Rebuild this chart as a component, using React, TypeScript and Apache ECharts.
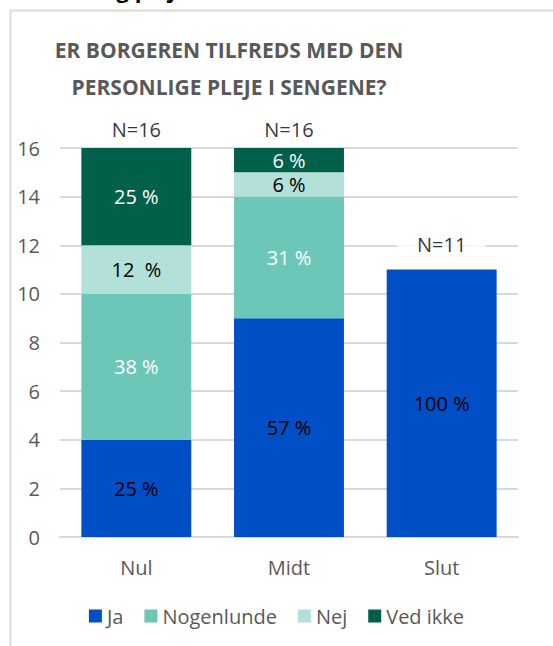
import React, { useEffect, useRef } from "react";
import * as echarts from "echarts";

const categories = ["Nul", "Midt", "Slut"];
const seriesNames = ["Ja", "Nogenlunde", "Nej", "Ved ikke"];
const jaValues = [4, 9, 11];
const nogenlundeValues = [6, 5, 0];
const nejValues = [2, 1, 0];
const vedIkkeValues = [4, 1, 0];
const jaLabels = ["25 %", "57 %", "100 %"];
const nogenlundeLabels = ["38 %", "31 %", ""];
const nejLabels = ["12  %", "6 %", ""];
const vedIkkeLabels = ["25 %", "6 %", ""];
const totals = [16, 16, 11];
const nLabels = ["N=16", "N=16", "N=11"];
const yTicks = [0, 2, 4, 6, 8, 10, 12, 14, 16];

const FONT = "'Open Sans', 'Noto Sans', sans-serif";
const colors = ["#004FC6", "#6DC7B9", "#B3E1DA", "#00604A"];
const labelColors = ["#000000", "#ffffff", "#000000", "#ffffff"];
const nLabelDistance = [6, 6, 13];

export default function App() {
  const ref = useRef<HTMLDivElement>(null);
  useEffect(() => {
    if (!ref.current) return;
    const chart = echarts.init(ref.current, null, { renderer: "svg" });
    const valueSets = [jaValues, nogenlundeValues, nejValues, vedIkkeValues];
    const labelSets = [jaLabels, nogenlundeLabels, nejLabels, vedIkkeLabels];
    const barSeries = seriesNames.map((name, i) => ({
      name,
      type: "bar",
      stack: "total",
      barWidth: "72%",
      data: valueSets[i].map((v) => (v === 0 ? null : v)),
      itemStyle: { color: colors[i] },
      label: {
        show: true,
        position: "inside",
        fontFamily: FONT,
        fontSize: 20,
        color: labelColors[i],
        formatter: (p: any) => labelSets[i][p.dataIndex],
      },
    }));
    chart.setOption({
      animation: false,
      textStyle: { fontFamily: FONT },
      graphic: [
        {
          type: "rect",
          shape: { x: 10.5, y: 10.5, width: 600, height: 700 },
          style: { fill: "#ffffff", stroke: "#d9d9d9", lineWidth: 2 },
          z: -10,
        },
        {
          type: "text",
          x: 188,
          y: 0,
          style: {
            text: "Personlig pleje",
            font: "bold 22px " + FONT,
            fill: "#000000",
            align: "right",
            verticalAlign: "bottom",
          },
        },
        {
          type: "text",
          x: 229,
          y: 31,
          style: {
            text: "ER BORGEREN TILFREDS MED DEN\nPERSONLIGE PLEJE I SENGENE?",
            font: "bold 21px " + FONT,
            fill: "#595959",
            align: "center",
            verticalAlign: "top",
            lineHeight: 37,
          },
        },
      ],
      grid: { left: 60, right: 35, top: 148, bottom: 109 },
      legend: {
        data: seriesNames,
        bottom: 15,
        left: "center",
        itemWidth: 13,
        itemHeight: 13,
        itemGap: 21,
        icon: "rect",
        textStyle: { fontFamily: FONT, fontSize: 20, color: "#595959" },
      },
      xAxis: {
        type: "category",
        data: categories,
        axisLine: { lineStyle: { color: "#d9d9d9", width: 2 } },
        axisTick: { show: false },
        axisLabel: { fontFamily: FONT, fontSize: 20, color: "#595959", margin: 20 },
      },
      yAxis: {
        type: "value",
        min: yTicks[0],
        max: yTicks[yTicks.length - 1],
        interval: 2,
        axisLine: { show: false },
        axisTick: { show: false },
        splitLine: { lineStyle: { color: "#d9d9d9", width: 2 } },
        axisLabel: { fontFamily: FONT, fontSize: 20, color: "#595959", margin: 20 },
      },
      series: [
        ...barSeries,
        {
          name: "N",
          type: "scatter",
          data: totals.map((v, i) => ({ value: v, label: { distance: nLabelDistance[i] } })),
          symbolSize: 1,
          itemStyle: { color: "rgba(0,0,0,0)" },
          z: 5,
          label: {
            show: true,
            position: "top",
            fontFamily: FONT,
            fontSize: 20,
            color: "#000000",
            backgroundColor: "#ffffff",
            padding: [2, 20],
            formatter: (p: any) => nLabels[p.dataIndex],
          },
        },
      ],
    });
    return () => chart.dispose();
  }, []);
  return (
    <div
      ref={ref}
      style={{ position: "fixed", left: 0, top: 0, width: 553, height: 646, background: "#fff" }}
    />
  );
}
